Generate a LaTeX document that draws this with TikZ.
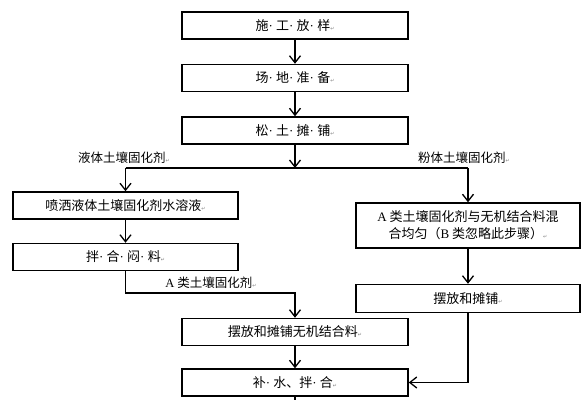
\documentclass[tikz,border=0pt]{standalone}
\usepackage{fontspec}
\setmainfont{Liberation Serif}
\newfontfamily\cjk{Noto Sans CJK SC}
\newfontfamily\symfont{DejaVu Sans}
\usetikzlibrary{arrows.meta, positioning}
\newcommand{\retmark}{{\symfont\fontsize{5pt}{5pt}\selectfont\color{gray}↵}}
\newcommand{\lat}[1]{{\rmfamily #1}}
\newcommand{\md}{\lat{·\ }}

\begin{document}
\begin{tikzpicture}[x=1pt, y=-1pt,
  block/.style = {draw, line width=1.5pt, minimum width=226pt, minimum height=27pt, align=center, inner sep=2pt,
                  font=\cjk\fontsize{13pt}{17pt}\selectfont},
  line/.style = {line width=1.4pt, -{Straight Barb[length=7pt, width=11pt, line width=1.3pt]}},
  plain/.style = {line width=1.4pt},
  signal/.style = {font=\cjk\fontsize{12.5pt}{15pt}\selectfont}
]
  \useasboundingbox (0,0) rectangle (584,400);

  % Nodes
  \node[block] (layout) at (295,25.5) {施\md 工\md 放\md 样\retmark};
  \node[block, below=24pt of layout] (site) {场\md 地\md 准\md 备\retmark};
  \node[block, below=24pt of site] (loosen) {松\md 土\md 摊\md 铺\retmark};
  \node[block, minimum width=225pt] (spray) at (125.5,205.5) {喷洒液体土壤固化剂水溶液\retmark};
  \node[block, minimum width=225pt, below=23pt of spray] (stir) {拌\md 合\md 闷\md 料\retmark};
  \node[block, minimum width=224pt, minimum height=45pt] (mix) at (468,225.5)
    {\lat{A} 类土壤固化剂与无机结合料混\\合均匀（\lat{B} 类忽略此步骤）\retmark};
  \node[block, minimum width=224pt, minimum height=28pt, below=35pt of mix] (place) {摆放和摊铺\retmark};
  \node[block] (binder) at (295,332) {摆放和摊铺无机结合料\retmark};
  \node[block, below=22pt of binder] (water) {补\md 水、拌\md 合\retmark};

  % Branch points
  \coordinate (split) at (295,168);
  \coordinate (splitL) at (spray.north |- split);
  \coordinate (splitR) at (mix.north |- split);
  \coordinate (turnL) at (125.5,293);
  \coordinate (out) at (295,400);

  % Labels
  \node[signal] (liquid) at (124,158) {液体土壤固化剂\retmark};
  \node[signal] (powder) at (464,158) {粉体土壤固化剂\retmark};
  \node[signal] (typeA) at (211,283) {\lat{A} 类土壤固化剂\retmark};

  % Connections
  \draw[line] (layout) -- (site);
  \draw[line] (site) -- (loosen);
  \draw[line] (loosen) -- (split);
  \draw[plain] (splitL) -- (splitR);
  \draw[line] (splitL) -- (spray);
  \draw[line] (splitR) -- (mix);
  \draw[line] (spray) -- (stir);
  \draw[line] (mix) -- (place);
  \draw[line] (stir.south) -- (turnL) -| (binder.north);
  \draw[line] (binder) -- (water);
  \draw[line] (place.south) |- (water.east);
  \draw[plain] (water.south) -- (out);

\end{tikzpicture}
\end{document}
